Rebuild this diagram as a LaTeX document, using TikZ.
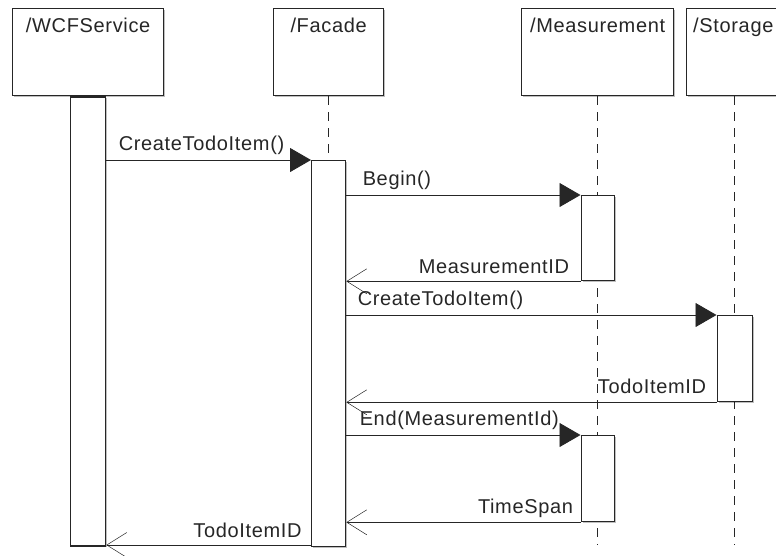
\documentclass[tikz,border=0pt]{standalone}
\usepackage{fontspec}
\setmainfont{Liberation Sans}[LetterSpace=3.3]
\usetikzlibrary{arrows.meta,shadows}
\begin{document}
\begin{tikzpicture}[x=1pt,y=-1pt,
  shade/.style={drop shadow={shadow xshift=1.5pt,shadow yshift=-1.5pt,fill=black,opacity=0.25}},
  head/.style={draw=black!85,line width=1.3pt,fill=white,anchor=north west,inner sep=0pt,minimum height=87pt,shade},
  act/.style={draw=black!85,line width=1.3pt,fill=white,anchor=north,inner sep=0pt,shade},
  title/.style={font=\fontsize{20}{24}\selectfont,text=black!85,inner sep=0pt,anchor=base},
  msg/.style={font=\fontsize{20}{24}\selectfont,text=black!85,inner sep=0pt},
  life/.style={draw=black!85,line width=1pt,dash pattern=on 9pt off 7pt},
  call/.style={draw=black!85,line width=0.9pt,-{Triangle[length=21pt,width=24pt]}},
  ret/.style={draw=black!85,line width=0.9pt,-{Straight Barb[length=20pt,width=25pt,line width=0.5pt]}}]
\useasboundingbox (0,0) rectangle (776,555);
\clip (0,0) rectangle (776,555);

% lifeline heads
\node[head,minimum width=151pt] (hW) at (12,8) {};
\node[head,minimum width=110pt] (hF) at (273,8) {};
\node[head,minimum width=152pt] (hM) at (521,8) {};
\node[head,minimum width=96pt]  (hS) at (686,8) {};
\node[title] (tW) at (hW.north |- 0,32) {/WCFService};
\node[title] (tF) at (hF.north |- 0,32) {/Facade};
\node[title] (tM) at (hM.north |- 0,32) {/Measurement};
\node[title,anchor=base west] (tS) at (693,32) {/Storage};

% dashed lifelines
\coordinate (eF) at (hF.south |- 0,545);
\coordinate (eM) at (hM.south |- 0,545);
\coordinate (eS) at (hS.south |- 0,545);
\draw[life] (hF.south) -- (eF);
\draw[life] (hM.south) -- (eM);
\draw[life] (hS.south) -- (eS);

% activation bars
\node[act,minimum width=35pt,minimum height=449pt] (aW)  at (hW.south) {};
\node[act,minimum width=34pt,minimum height=386pt] (aF)  at (hF.south |- 0,160) {};
\node[act,minimum width=33pt,minimum height=85pt]  (aM1) at (hM.south |- 0,195) {};
\node[act,minimum width=35pt,minimum height=86pt]  (aS)  at (hS.south |- 0,315) {};
\node[act,minimum width=33pt,minimum height=86pt]  (aM2) at (hM.south |- 0,435) {};

% messages
\draw[call] (aW.east |- aF.north) -- (aF.north west)
  node[msg,at start,anchor=base west,xshift=12pt,yshift=10pt] {CreateTodoItem()};
\draw[call] (aF.east |- aM1.north) -- (aM1.north west)
  node[msg,at start,anchor=base west,xshift=16pt,yshift=10pt] {Begin()};
\draw[ret] (aM1.south west) -- (aF.east |- aM1.south)
  node[msg,at start,anchor=base east,xshift=-11pt,yshift=8pt] {MeasurementID};
\draw[call] (aF.east |- aS.north) -- (aS.north west)
  node[msg,at start,anchor=base west,xshift=11pt,yshift=10pt] {CreateTodoItem()};
\draw[ret] (aS.south west) -- (aF.east |- aS.south)
  node[msg,at start,anchor=base east,xshift=-10pt,yshift=9pt] {TodoItemID};
\draw[call] (aF.east |- aM2.north) -- (aM2.north west)
  node[msg,at start,anchor=base west,xshift=13pt,yshift=10pt] {End(MeasurementId)};
\draw[ret] (aM2.south west) -- (aF.east |- aM2.south)
  node[msg,at start,anchor=base east,xshift=-7pt,yshift=9pt] {TimeSpan};
\draw[ret] (aF.south west |- 0,545) -- (aW.east |- 0,545)
  node[msg,at start,anchor=base east,xshift=-9pt,yshift=8pt] {TodoItemID};
\end{tikzpicture}
\end{document}
